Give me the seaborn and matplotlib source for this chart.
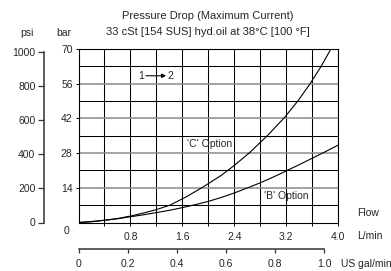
import numpy as np
import pandas as pd
import matplotlib
matplotlib.use("Agg")
import matplotlib.pyplot as plt
import seaborn as sns

# flow in L/min, pressure drop in bar
flow_c = [0.0, 0.2, 0.4, 0.6, 0.8, 1.0, 1.2, 1.41, 1.65, 1.9, 2.2, 2.4,
          2.63, 2.91, 3.18, 3.38, 3.57, 3.74, 3.89]
drop_c = [0.0, 0.3, 0.9, 1.6, 2.6, 3.8, 5.2, 7.0, 10.2, 14.0, 19.0, 23.0,
          28.0, 35.0, 42.5, 49.0, 56.0, 63.0, 70.0]
flow_b = [0.0, 0.2, 0.4, 0.6, 0.8, 1.0, 1.2, 1.4, 1.6, 1.8, 2.0, 2.2, 2.4,
          2.6, 2.8, 3.0, 3.2, 3.4, 3.6, 3.8, 4.0]
drop_b = [0.0, 0.4, 0.9, 1.5, 2.3, 3.1, 4.0, 4.9, 6.0, 7.2, 8.5, 10.1, 11.9,
          13.9, 16.0, 18.3, 20.8, 23.3, 25.9, 28.5, 31.2]

bar_ticks = [14, 28, 42, 56, 70]
psi_ticks = [0, 200, 400, 600, 800, 1000]
lpm_ticks = [0.8, 1.6, 2.4, 3.2, 4.0]
gpm_ticks = [0, 0.2, 0.4, 0.6, 0.8, 1.0]

BAR_TO_PSI = 14.5038
GAL_TO_L = 3.78541

sns.set_theme(style="white")
plt.rcParams["font.family"] = ["Liberation Sans", "DejaVu Sans"]
FS = 7.5

df = pd.concat([
    pd.DataFrame({"flow": flow_c, "drop": drop_c, "opt": "C"}),
    pd.DataFrame({"flow": flow_b, "drop": drop_b, "opt": "B"}),
])

fig = plt.figure(figsize=(3.91, 2.71), dpi=100)
W, H = 391, 271
x0, x1, y0, y1 = 78.5, 338, 222.5, 49  # pixel frame of the main chart
ax = fig.add_axes([x0 / W, 1 - y0 / H, (x1 - x0) / W, (y0 - y1) / H])

sns.lineplot(data=df, x="flow", y="drop", units="opt", estimator=None,
             color="black", lw=0.8, ax=ax, legend=False, sort=False)
ax.set_xlim(0, 4.0)
ax.set_ylim(0, 70)

# grid: grey on labelled bar lines, black on the rest
ax.set_yticks(bar_ticks)
ax.set_yticks([7, 21, 35, 49, 63], minor=True)
ax.set_xticks(lpm_ticks)
ax.set_xticks([0.4, 1.2, 2.0, 2.8, 3.6], minor=True)
ax.grid(which="major", axis="y", color="#8a8a8a", lw=1.1)
ax.grid(which="minor", axis="y", color="black", lw=0.75)
ax.grid(which="both", axis="x", color="black", lw=0.75)
ax.set_axisbelow(True)
for s in ax.spines.values():
    s.set_color("black")
    s.set_linewidth(0.8)
ax.tick_params(axis="y", which="major", direction="out", length=2.2, width=0.7,
               color="black", labelsize=FS, pad=2, left=True)
ax.tick_params(axis="y", which="minor", length=0)
ax.tick_params(axis="x", which="both", direction="out", length=2.2, width=0.7,
               color="black", labelsize=FS, pad=4.5, bottom=True)
ax.set_xticklabels([f"{v:.1f}" for v in lpm_ticks])
ax.set_yticklabels([str(v) for v in bar_ticks])
ax.set_xlabel("")
ax.set_ylabel("")

# psi axis
axp = fig.add_axes([43.5 / W, 1 - y0 / H, 0.001, (y0 - y1) / H])
axp.set_ylim(0, 70 * BAR_TO_PSI)
axp.set_yticks(psi_ticks)
axp.set_yticklabels([str(v) for v in psi_ticks])
axp.set_xticks([])
for k in ["top", "right", "bottom"]:
    axp.spines[k].set_visible(False)
axp.spines["left"].set_bounds(0, 1000)
axp.spines["left"].set_color("#333333")
axp.spines["left"].set_linewidth(1.1)
axp.tick_params(axis="y", direction="out", length=4.3, width=0.9, color="#333333",
                labelsize=FS, pad=1.5, left=True)
axp.patch.set_visible(False)

# US gal/min axis
axg = fig.add_axes([x0 / W, 1 - 248.5 / H, (x1 - x0) / W, 0.001])
axg.set_xlim(0, 4.0 / GAL_TO_L)
axg.set_xticks(gpm_ticks)
axg.set_xticklabels(["0", "0.2", "0.4", "0.6", "0.8", "1.0"])
axg.set_yticks([])
for k in ["top", "right", "left"]:
    axg.spines[k].set_visible(False)
axg.spines["bottom"].set_bounds(0, 1.0)
axg.spines["bottom"].set_color("#333333")
axg.spines["bottom"].set_linewidth(1.1)
axg.tick_params(axis="x", direction="out", length=2.9, width=0.9, color="#333333",
                labelsize=FS, pad=4.4, bottom=True)
axg.patch.set_visible(False)


def px(x, y, s, **kw):
    fig.text(x / W, 1 - y / H, s, fontsize=kw.pop("fs", FS), **kw)


px(208, 16, "Pressure Drop (Maximum Current)", ha="center", va="center", fs=8)
px(208, 32, "33 cSt [154 SUS] hyd.oil at 38\u00b0C [100 \u00b0F]",
   ha="center", va="center", fs=8)
px(27, 33, "psi", ha="center", va="center")
px(64, 33, "bar", ha="center", va="center")
px(67, 231, "0", ha="center", va="center")
px(357, 213, "Flow", ha="left", va="center")
px(357, 236, "L/min", ha="left", va="center")
px(341, 264, "US gal/min", ha="left", va="center")

ax.text(2.02, 31.5, "'C' Option", fontsize=FS, ha="center", va="center")
ax.text(3.2, 10.5, "'B' Option", fontsize=FS, ha="center", va="center")
ax.text(0.97, 59.2, "1", fontsize=FS, ha="center", va="center")
ax.text(1.42, 59.2, "2", fontsize=FS, ha="center", va="center")
ax.annotate("", xy=(1.35, 59.2), xytext=(1.04, 59.2),
            arrowprops=dict(arrowstyle="-|>", color="black", lw=0.8,
                            mutation_scale=6, shrinkA=0, shrinkB=0))

fig.savefig("out.png", dpi=100)
